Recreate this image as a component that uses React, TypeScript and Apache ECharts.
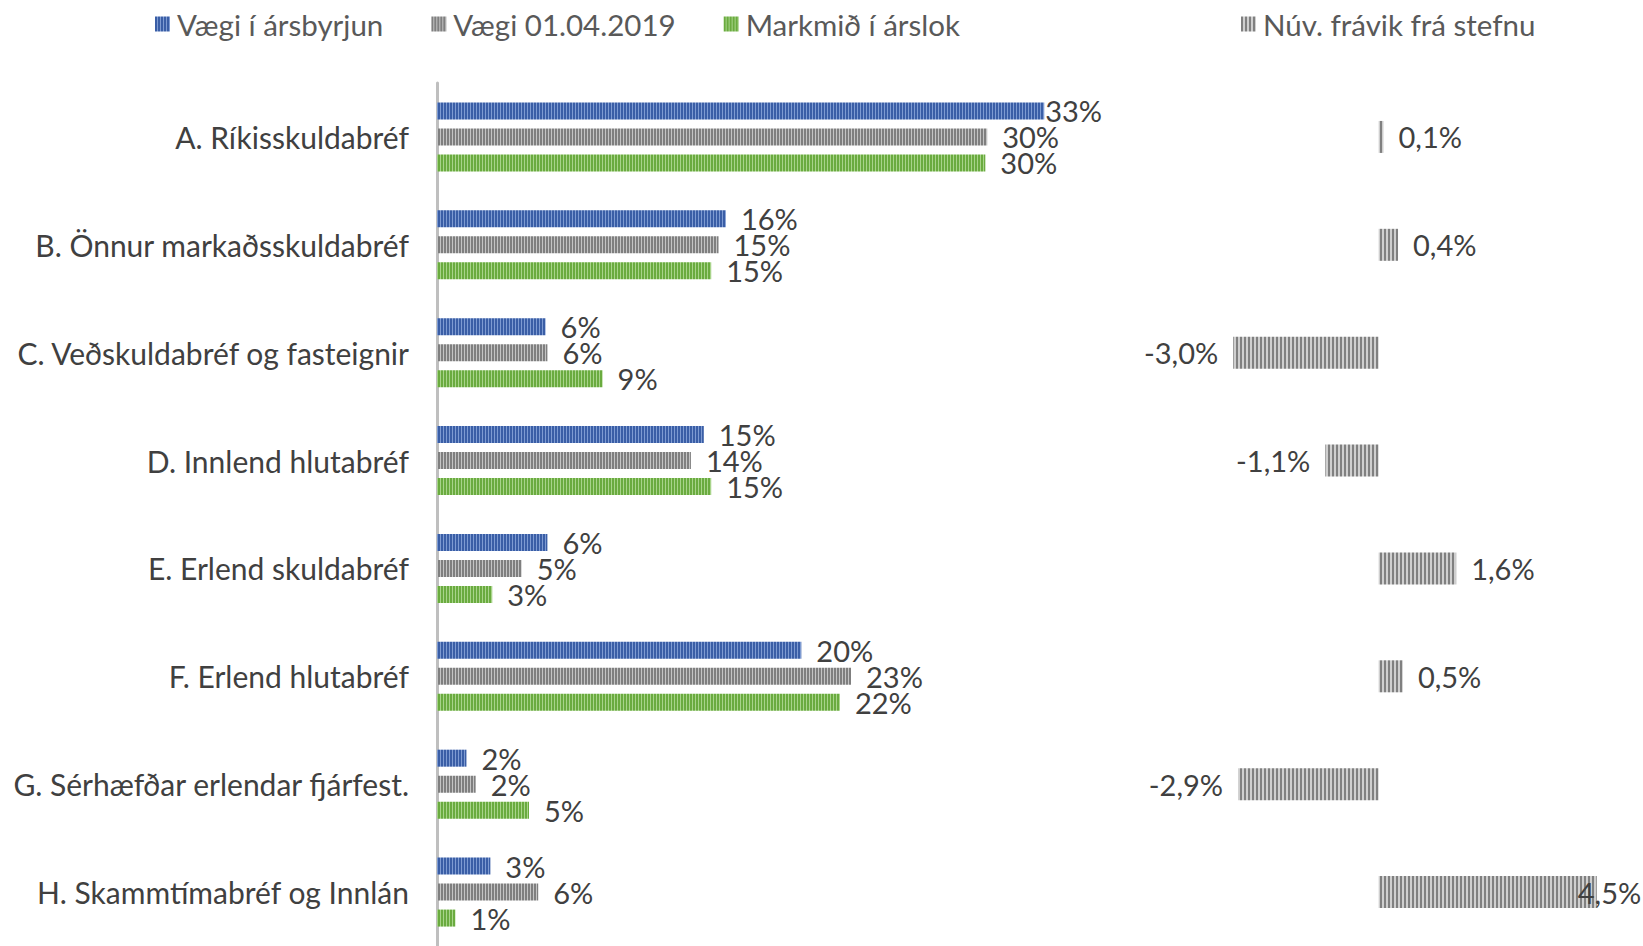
import React, { useEffect, useRef } from 'react';
import * as echarts from 'echarts';

const categories = [
  'A. Ríkisskuldabréf',
  'B. Önnur markaðsskuldabréf',
  'C. Veðskuldabréf og fasteignir',
  'D. Innlend hlutabréf',
  'E. Erlend skuldabréf',
  'F. Erlend hlutabréf',
  'G. Sérhæfðar erlendar fjárfest.',
  'H. Skammtímabréf og Innlán',
];
const seriesNames = ['Vægi í ársbyrjun', 'Vægi 01.04.2019', 'Markmið í árslok'];
const deviationName = 'Núv. frávik frá stefnu';
const weightStart = [33.0, 15.7, 5.9, 14.5, 6.0, 19.8, 1.6, 2.9];
const weightNow = [29.9, 15.3, 6.0, 13.8, 4.6, 22.5, 2.1, 5.5];
const target = [29.8, 14.9, 9.0, 14.9, 3.0, 21.9, 5.0, 1.0];
const deviation = [0.1, 0.4, -3.0, -1.1, 1.6, 0.5, -2.9, 4.5];

const FONT = 'Lato';
const FS = 29;
const LABEL_COLOR = '#404040';

function stripes(dark: string, light: string, darkW: number, lightW: number) {
  const c = document.createElement('canvas');
  c.width = darkW + lightW;
  c.height = 4;
  const ctx = c.getContext('2d')!;
  ctx.fillStyle = light;
  ctx.fillRect(0, 0, c.width, 4);
  ctx.fillStyle = dark;
  ctx.fillRect(0, 0, darkW, 4);
  return { image: c.toDataURL(), repeat: 'repeat', imageWidth: c.width, imageHeight: 4 } as any;
}

export default function App() {
  const ref = useRef<HTMLDivElement>(null);
  useEffect(() => {
    if (!ref.current) return;
    const chart = echarts.init(ref.current, undefined, { renderer: 'svg' });
    const blue = stripes('#3a5ea6', '#7e9bd2', 2, 1);
    const gray = stripes('#7f7f7f', '#c4c4c4', 2, 1);
    const green = stripes('#6aab3f', '#a8d48a', 2, 1);
    const gray2 = stripes('#808080', '#cfcfcf', 2, 2);
    const pct = (p: any) => Math.round(p.value) + '%';
    const leftLabel = { show: true, position: 'right', distance: 15, formatter: pct, fontFamily: FONT, fontSize: FS, color: LABEL_COLOR };
    const leftSeries = [weightStart, weightNow, target].map((vals, i) => ({
      name: seriesNames[i],
      type: 'bar',
      xAxisIndex: 0,
      yAxisIndex: 0,
      barWidth: 17,
      barGap: '53%',
      itemStyle: { color: [blue, gray, green][i] },
      label: leftLabel,
      data: vals.map((v) => (v > 32 ? { value: v, label: { distance: 1 } } : v)),
    }));
    const legendText = { fontFamily: FONT, fontSize: 29.5, color: '#595959', padding: [0, 0, 0, 2] };
    const option: any = {
      animation: false,
      textStyle: { fontFamily: FONT },
      legend: [
        {
          data: seriesNames,
          left: 150,
          top: 4,
          icon: 'rect',
          itemWidth: 15,
          itemHeight: 15,
          itemGap: 48,
          textStyle: legendText,
        },
        {
          data: [deviationName],
          left: 1236,
          top: 4,
          icon: 'rect',
          itemWidth: 15,
          itemHeight: 15,
          textStyle: legendText,
        },
      ],
      grid: [
        { left: 437, top: 83, width: 644, height: 868 },
        { left: 1209, top: 83, width: 412, height: 868 },
      ],
      xAxis: [
        { type: 'value', gridIndex: 0, min: 0, max: 35, show: false, splitLine: { show: false } },
        { type: 'value', gridIndex: 1, min: -3.5, max: 5, show: false, splitLine: { show: false } },
      ],
      yAxis: [
        {
          type: 'category',
          gridIndex: 0,
          inverse: true,
          data: categories,
          axisLine: { lineStyle: { color: '#bfbfbf', width: 3 } },
          axisTick: { show: false },
          axisLabel: { fontFamily: FONT, fontSize: 30, color: LABEL_COLOR, margin: 28 },
        },
        { type: 'category', gridIndex: 1, inverse: true, data: categories, show: false },
      ],
      series: [
        ...leftSeries,
        {
          name: deviationName,
          type: 'bar',
          xAxisIndex: 1,
          yAxisIndex: 1,
          barWidth: 32,
          itemStyle: { color: gray2 },
          label: {
            show: true,
            position: 'right',
            distance: 15,
            fontFamily: FONT,
            fontSize: FS,
            color: LABEL_COLOR,
            formatter: (p: any) => p.value.toFixed(1).replace('.', ',') + '%',
          },
          data: deviation.map((v) =>
            v < 0
              ? { value: v, label: { position: 'left' } }
              : v > 4
              ? { value: v, label: { distance: -19 } }
              : v
          ),
        },
      ],
    };
    chart.setOption(option);
    return () => chart.dispose();
  }, []);
  return (
    <div
      ref={ref}
      style={{ position: 'absolute', left: 0, top: 0, width: 1643, height: 946, background: '#fff' }}
    />
  );
}
